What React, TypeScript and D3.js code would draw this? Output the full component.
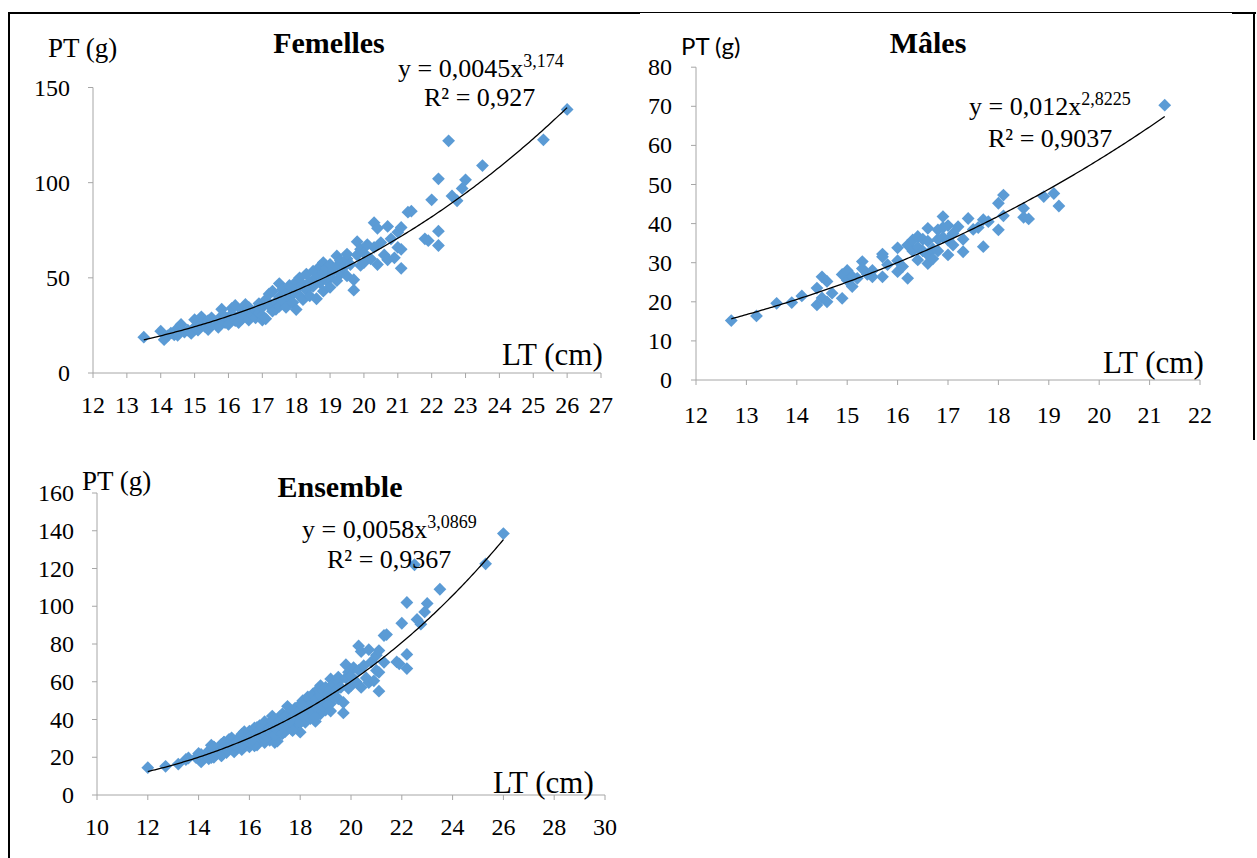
import React from "react";
import * as d3 from "d3";

// Longueur totale (cm) / poids total (g) des femelles
const femelles: [number, number][] = [
  [13.5, 18.8], [14.0, 22.0], [14.1, 17.5], [14.2, 19.5], [14.3, 21.0], [14.4, 20.0],
  [14.5, 23.5], [14.5, 19.8], [14.6, 25.5], [14.7, 21.5], [14.8, 22.5], [14.9, 20.8],
  [15.0, 24.0], [15.0, 28.0], [15.1, 22.5], [15.2, 29.5], [15.2, 26.0], [15.3, 24.5],
  [15.4, 27.5], [15.4, 22.8], [15.5, 29.0], [15.5, 25.5], [15.6, 27.0], [15.7, 24.0],
  [15.8, 33.5], [15.8, 30.0], [15.9, 26.5], [15.9, 29.5], [16.0, 28.0], [16.0, 25.5],
  [16.1, 34.0], [16.1, 31.0], [16.2, 27.5], [16.2, 35.5], [16.3, 30.0], [16.3, 26.5],
  [16.4, 33.0], [16.4, 28.5], [16.5, 36.0], [16.5, 31.5], [16.6, 27.8], [16.6, 34.5],
  [16.7, 30.5], [16.8, 33.0], [16.8, 29.0], [16.9, 36.5], [16.9, 31.5], [17.0, 34.5],
  [17.0, 30.0], [17.0, 27.8], [17.1, 38.5], [17.1, 28.5], [17.2, 41.5], [17.2, 35.5],
  [17.3, 32.5], [17.3, 43.0], [17.4, 37.5], [17.4, 33.5], [17.5, 47.0], [17.5, 40.0],
  [17.5, 35.0], [17.6, 44.0], [17.6, 38.0], [17.7, 41.5], [17.7, 34.5], [17.8, 46.0],
  [17.8, 39.5], [17.9, 42.5], [17.9, 37.0], [18.0, 48.0], [18.0, 44.0], [18.0, 33.3],
  [18.1, 40.5], [18.1, 50.0], [18.2, 46.5], [18.2, 38.5], [18.3, 52.0], [18.3, 43.5],
  [18.4, 48.0], [18.4, 40.5], [18.5, 53.5], [18.5, 45.5], [18.6, 50.5], [18.6, 39.0],
  [18.7, 56.0], [18.7, 47.5], [18.8, 58.0], [18.8, 52.5], [18.8, 43.0], [18.9, 55.0],
  [18.9, 48.5], [19.0, 57.0], [19.0, 50.0], [19.0, 45.0], [19.1, 53.5], [19.2, 61.5],
  [19.2, 56.0], [19.2, 48.5], [19.3, 59.0], [19.3, 52.0], [19.4, 55.5], [19.5, 60.0],
  [19.5, 62.5], [19.5, 51.0], [19.6, 57.0], [19.7, 49.0], [19.7, 43.5], [19.8, 69.0],
  [19.8, 62.0], [19.9, 65.0], [19.9, 56.5], [20.0, 63.0], [20.0, 58.0], [20.1, 67.5],
  [20.2, 60.0], [20.3, 79.0], [20.3, 66.0], [20.4, 76.0], [20.4, 57.0], [20.5, 68.5],
  [20.6, 62.0], [20.7, 77.0], [20.7, 59.5], [20.8, 70.5], [20.9, 60.5], [21.0, 74.0],
  [21.0, 66.0], [21.1, 76.5], [21.1, 65.0], [21.1, 55.0], [21.3, 84.5], [21.4, 85.0],
  [21.8, 70.5], [21.9, 69.5], [22.0, 91.0], [22.2, 102.0], [22.2, 74.5], [22.2, 67.0],
  [22.5, 122.0], [22.6, 93.0], [22.75, 90.5], [22.9, 97.0], [23.0, 101.5], [23.5, 109.0],
  [25.3, 122.5], [26.0, 138.5],
];

// Longueur totale (cm) / poids total (g) des mâles
const males: [number, number][] = [
  [12.7, 15.2], [13.2, 16.4], [13.6, 19.6], [13.9, 19.8], [14.1, 21.5], [14.4, 19.2],
  [14.4, 23.5], [14.5, 26.4], [14.6, 25.2], [14.5, 21.0], [14.6, 20.0], [14.7, 22.2],
  [14.9, 20.9], [14.9, 27.0], [15.0, 25.5], [15.0, 28.0], [15.1, 23.9], [15.1, 26.5],
  [15.3, 30.3], [15.3, 28.5], [15.2, 26.0], [15.4, 27.0], [15.5, 26.4], [15.5, 28.0],
  [15.7, 26.4], [15.7, 31.5], [15.7, 32.2], [15.8, 29.5], [16.0, 33.8], [16.0, 27.7],
  [16.0, 30.5], [16.2, 26.0], [16.1, 29.0], [16.2, 34.5], [16.3, 35.8], [16.4, 36.7],
  [16.3, 33.0], [16.4, 30.7], [16.4, 34.0], [16.5, 33.0], [16.5, 36.0], [16.6, 38.8],
  [16.6, 29.8], [16.6, 35.5], [16.6, 32.0], [16.7, 33.5], [16.7, 31.0], [16.8, 38.4],
  [16.8, 36.0], [16.8, 33.0], [16.9, 41.8], [16.9, 36.5], [16.9, 39.0], [17.0, 32.0],
  [17.0, 35.8], [17.0, 39.5], [17.1, 37.5], [17.1, 34.5], [17.2, 39.2], [17.3, 32.8],
  [17.3, 36.0], [17.4, 41.3], [17.5, 38.5], [17.7, 34.1], [17.7, 41.0], [17.8, 40.5],
  [17.6, 39.0], [18.0, 38.4], [18.0, 45.2], [18.1, 47.3], [18.1, 42.0], [18.5, 43.9],
  [18.5, 41.6], [18.6, 41.2], [18.9, 46.9], [19.1, 47.7], [19.2, 44.5], [21.3, 70.3],
];

// Individus non sexés
const nonSexes: [number, number][] = [[12.0, 14.5]];

const ensemble: [number, number][] = [...femelles, ...males, ...nonSexes];

const femellesXTicks = [12, 13, 14, 15, 16, 17, 18, 19, 20, 21, 22, 23, 24, 25, 26, 27];
const femellesYTicks = [0, 50, 100, 150];
const malesXTicks = [12, 13, 14, 15, 16, 17, 18, 19, 20, 21, 22];
const malesYTicks = [0, 10, 20, 30, 40, 50, 60, 70, 80];
const ensembleXTicks = [10, 12, 14, 16, 18, 20, 22, 24, 26, 28, 30];
const ensembleYTicks = [0, 20, 40, 60, 80, 100, 120, 140, 160];

// Ajustements puissance PT = a·LT^b
const femellesFit = { a: 0.0045, b: 3.174, aText: "0,0045", bText: "3,174", r2Text: "0,927" };
const malesFit = { a: 0.012, b: 2.8225, aText: "0,012", bText: "2,8225", r2Text: "0,9037" };
const ensembleFit = { a: 0.0058, b: 3.0869, aText: "0,0058", bText: "3,0869", r2Text: "0,9367" };

const SERIF = "'Liberation Serif', 'Times New Roman', serif";
const SANS = "Lato, 'Open Sans', sans-serif";
const BLUE = "#5B9BD5";
const AXIS = "#a6a6a6";

type Fit = { a: number; b: number; aText: string; bText: string; r2Text: string };

type PanelProps = {
  title: string;
  data: [number, number][];
  xTicks: number[];
  yTicks: number[];
  fit: Fit;
  box: { left: number; right: number; top: number; bottom: number };
  yLabelEnd: number;
  xLabelBaseline: number;
  ptLabel: { x: number; y: number; font: string; size: number };
  titlePos: { x: number; y: number };
  eqPos: { x: number; y: number };
  r2Pos: { x: number; y: number };
  ltPos: { x: number; y: number };
};

function Panel(p: PanelProps) {
  const x = d3
    .scaleLinear()
    .domain([p.xTicks[0], p.xTicks[p.xTicks.length - 1]])
    .range([p.box.left, p.box.right]);
  const y = d3
    .scaleLinear()
    .domain([p.yTicks[0], p.yTicks[p.yTicks.length - 1]])
    .range([p.box.bottom, p.box.top]);

  const [x0, x1] = d3.extent(p.data, (d) => d[0]) as [number, number];
  const curveXs = d3.range(0, 201).map((i) => x0 + ((x1 - x0) * i) / 200);
  const trend = d3
    .line<number>()
    .x((v) => x(v))
    .y((v) => y(p.fit.a * Math.pow(v, p.fit.b)))(curveXs);

  const r = 6.4;
  const diamond = (cx: number, cy: number) =>
    `M${cx},${cy - r}L${cx + r},${cy}L${cx},${cy + r}L${cx - r},${cy}Z`;

  return (
    <g>
      {/* axes */}
      <line x1={x.range()[0]} x2={x.range()[1]} y1={p.box.bottom} y2={p.box.bottom} stroke={AXIS} strokeWidth={1} />
      <line x1={p.box.left} x2={p.box.left} y1={p.box.bottom} y2={p.box.top} stroke={AXIS} strokeWidth={1} />
      {p.xTicks.map((t) => (
        <g key={"xt" + t}>
          <line x1={x(t)} x2={x(t)} y1={p.box.bottom} y2={p.box.bottom + 5} stroke={AXIS} />
          <text x={x(t)} y={p.xLabelBaseline} textAnchor="middle" fontFamily={SERIF} fontSize={24} fill="#000">
            {t}
          </text>
        </g>
      ))}
      {p.yTicks.map((t) => (
        <g key={"yt" + t}>
          <line x1={p.box.left - 5} x2={p.box.left} y1={y(t)} y2={y(t)} stroke={AXIS} />
          <text x={p.yLabelEnd} y={y(t) + 8} textAnchor="end" fontFamily={SERIF} fontSize={24} fill="#000">
            {t}
          </text>
        </g>
      ))}

      {/* points */}
      {p.data.map((d, i) => (
        <path key={i} d={diamond(x(d[0]), y(d[1]))} fill={BLUE} />
      ))}

      {/* courbe d'ajustement */}
      <path d={trend || ""} fill="none" stroke="#000" strokeWidth={1.3} />

      {/* textes */}
      <text x={p.ptLabel.x} y={p.ptLabel.y} fontFamily={p.ptLabel.font} fontSize={p.ptLabel.size} fill="#000">
        PT (g)
      </text>
      <text x={p.titlePos.x} y={p.titlePos.y} textAnchor="middle" fontFamily={SERIF} fontWeight="bold" fontSize={30} fill="#000">
        {p.title}
      </text>
      <text x={p.eqPos.x} y={p.eqPos.y} fontFamily={SERIF} fontSize={26} fill="#000">
        <tspan>{`y = ${p.fit.aText}x`}</tspan>
        <tspan dy={-10} fontSize={18}>{p.fit.bText}</tspan>
      </text>
      <text x={p.r2Pos.x} y={p.r2Pos.y} fontFamily={SERIF} fontSize={26} fill="#000">
        {`R² = ${p.fit.r2Text}`}
      </text>
      <text x={p.ltPos.x} y={p.ltPos.y} fontFamily={SERIF} fontSize={31} fill="#000">
        LT (cm)
      </text>
    </g>
  );
}

export default function App() {
  return (
    <div style={{ position: "absolute", left: 0, top: 0, background: "#fff" }}>
      <svg width={1257} height={858} viewBox="0 0 1257 858" style={{ display: "block" }}>
        <rect width={1257} height={858} fill="#fff" />

        {/* cadre */}
        <line x1={8} x2={640} y1={13} y2={13} stroke="#000" strokeWidth={2} />
        <line x1={640} x2={1232} y1={12.5} y2={12.5} stroke="#000" strokeWidth={1} />
        <line x1={1232} x2={1256} y1={13} y2={13} stroke="#000" strokeWidth={2} />
        <line x1={9} x2={9} y1={12} y2={858} stroke="#000" strokeWidth={2} />
        <line x1={1254} x2={1254} y1={12} y2={440} stroke="#000" strokeWidth={2} />

        <Panel
          title="Femelles"
          data={femelles}
          xTicks={femellesXTicks}
          yTicks={femellesYTicks}
          fit={femellesFit}
          box={{ left: 93, right: 601, top: 87.5, bottom: 373 }}
          yLabelEnd={70}
          xLabelBaseline={413}
          ptLabel={{ x: 48, y: 57, font: SERIF, size: 27 }}
          titlePos={{ x: 329, y: 53 }}
          eqPos={{ x: 398, y: 77 }}
          r2Pos={{ x: 424, y: 106 }}
          ltPos={{ x: 502, y: 365 }}
        />
        <Panel
          title="Mâles"
          data={males}
          xTicks={malesXTicks}
          yTicks={malesYTicks}
          fit={malesFit}
          box={{ left: 696, right: 1200, top: 67.2, bottom: 380 }}
          yLabelEnd={672}
          xLabelBaseline={423}
          ptLabel={{ x: 681, y: 55, font: SANS, size: 24 }}
          titlePos={{ x: 928, y: 53 }}
          eqPos={{ x: 969, y: 115 }}
          r2Pos={{ x: 988, y: 147 }}
          ltPos={{ x: 1103, y: 373 }}
        />
        <Panel
          title="Ensemble"
          data={ensemble}
          xTicks={ensembleXTicks}
          yTicks={ensembleYTicks}
          fit={ensembleFit}
          box={{ left: 97, right: 605, top: 493, bottom: 795 }}
          yLabelEnd={74}
          xLabelBaseline={835}
          ptLabel={{ x: 82, y: 490, font: SERIF, size: 27 }}
          titlePos={{ x: 340, y: 497 }}
          eqPos={{ x: 302, y: 538 }}
          r2Pos={{ x: 327, y: 568 }}
          ltPos={{ x: 493, y: 793 }}
        />
      </svg>
    </div>
  );
}
